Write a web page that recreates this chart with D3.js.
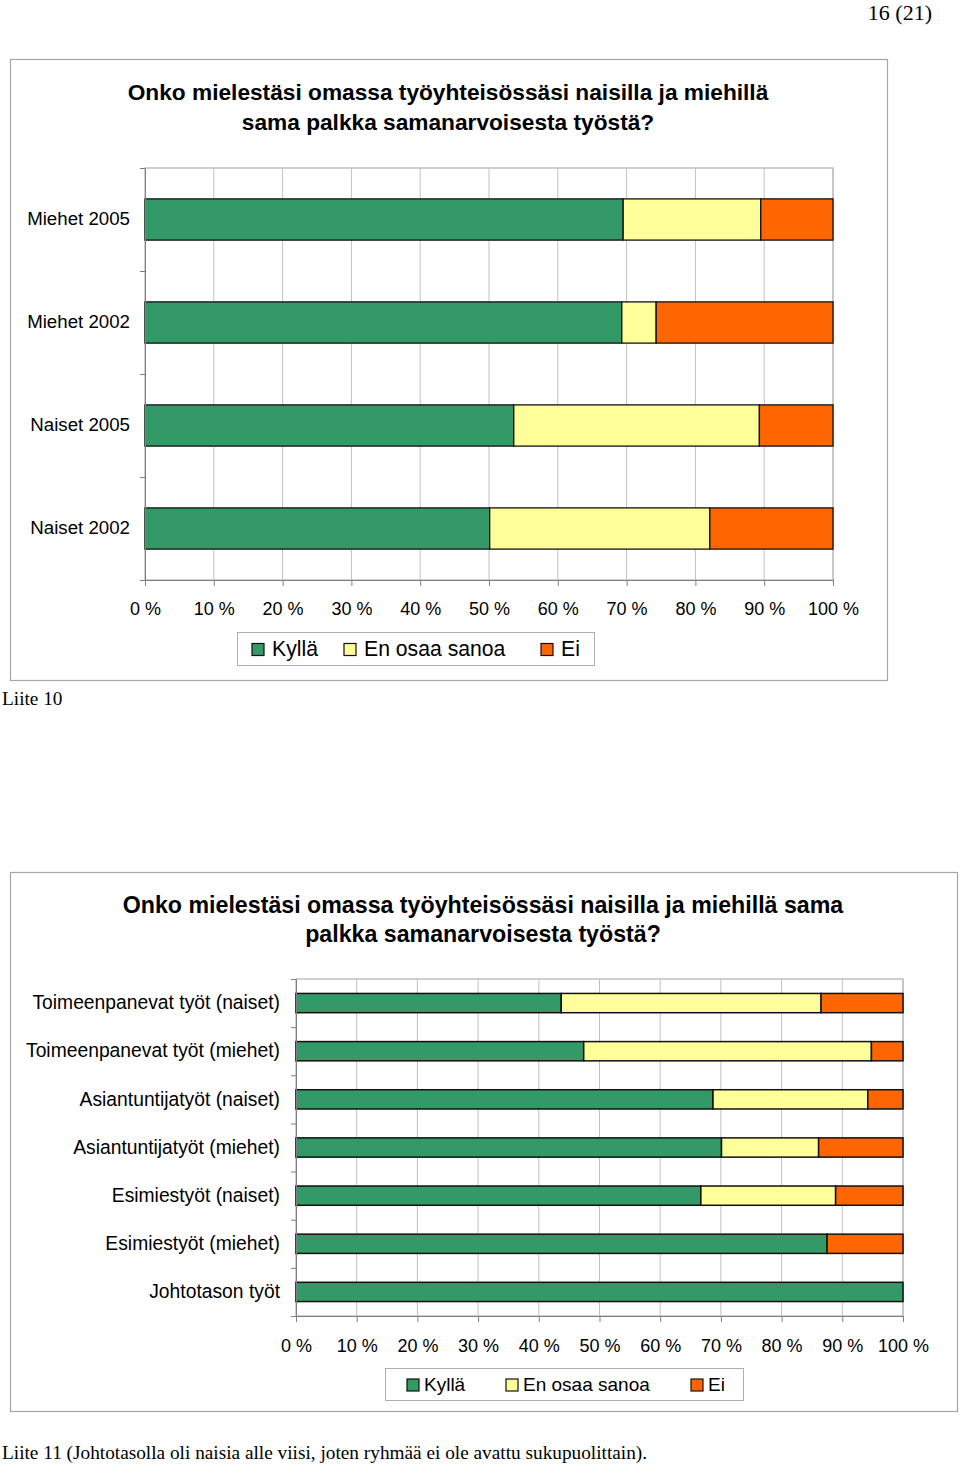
<!DOCTYPE html>
<html><head><meta charset="utf-8">
<script src="https://cdn.jsdelivr.net/npm/d3@7"></script>
<style>body{margin:0;background:#fff}svg{display:block}</style>
</head><body>
<script>
// ---- data ----
const seriesNames = ["Kyllä", "En osaa sanoa", "Ei"];
const seriesColors = ["#339966", "#FFFF99", "#FF6600"];
const tickValues = [0, 10, 20, 30, 40, 50, 60, 70, 80, 90, 100];
const tickLabels = ["0 %", "10 %", "20 %", "30 %", "40 %", "50 %", "60 %", "70 %", "80 %", "90 %", "100 %"];

const title1 = ["Onko mielestäsi omassa työyhteisössäsi naisilla ja miehillä", "sama palkka samanarvoisesta työstä?"];
const categories1 = ["Miehet 2005", "Miehet 2002", "Naiset 2005", "Naiset 2002"];
const kylla1 = [69.5, 69.3, 53.6, 50.1];
const eos1 = [20.0, 5.0, 35.7, 32.0];
const ei1 = [10.5, 25.7, 10.7, 17.9];

const title2 = ["Onko mielestäsi omassa työyhteisössäsi naisilla ja miehillä sama", "palkka samanarvoisesta työstä?"];
const categories2 = ["Toimeenpanevat työt (naiset)", "Toimeenpanevat työt (miehet)", "Asiantuntijatyöt (naiset)", "Asiantuntijatyöt (miehet)", "Esimiestyöt (naiset)", "Esimiestyöt (miehet)", "Johtotason työt"];
const kylla2 = [43.7, 47.4, 68.7, 70.1, 66.7, 87.5, 100];
const eos2 = [42.8, 47.4, 25.5, 16.0, 22.2, 0, 0];
const ei2 = [13.5, 5.2, 5.8, 13.9, 11.1, 12.5, 0];

const pageLabel = "16 (21)";
const note1 = "Liite 10";
const note2 = "Liite 11 (Johtotasolla oli naisia alle viisi, joten ryhmää ei ole avattu sukupuolittain).";

// ---- drawing ----
const W = 960, H = 1464;
const svg = d3.select("body").append("svg").attr("width", W).attr("height", H);
const sans = "'Liberation Sans', Arial, Helvetica, sans-serif";
const serif = "'Liberation Serif', 'Times New Roman', serif";

svg.append("text").attr("x", 932).attr("y", 20).attr("text-anchor", "end")
  .attr("font-family", serif).attr("font-size", 22).text(pageLabel);

function drawChart(cfg) {
  const g = svg.append("g");
  g.append("rect").attr("x", cfg.box[0] + 0.5).attr("y", cfg.box[1] + 0.5)
    .attr("width", cfg.box[2] - cfg.box[0]).attr("height", cfg.box[3] - cfg.box[1])
    .attr("fill", "#fff").attr("stroke", "#a6a6a6").attr("stroke-width", 1.2);

  cfg.title.forEach((t, i) => {
    g.append("text").attr("x", cfg.titleX).attr("y", cfg.titleY + i * cfg.titleLH)
      .attr("text-anchor", "middle").attr("font-family", sans).attr("font-weight", "bold")
      .attr("font-size", cfg.titleSize).text(t);
  });

  const [x0, y0, x1, y1] = cfg.plot;
  const x = d3.scaleLinear().domain([0, 100]).range([x0, x1]);
  const y = d3.scaleBand().domain(cfg.categories).range([y0, y1]).paddingInner(0.6).paddingOuter(0.3);
  const yIdx = d3.scaleLinear().domain([0, cfg.categories.length]).range([y0, y1]);

  // plot area frame (top/right) and gridlines
  g.append("rect").attr("x", x0).attr("y", y0).attr("width", x1 - x0).attr("height", y1 - y0)
    .attr("fill", "none").attr("stroke", "#a0a0a0").attr("stroke-width", 1);
  g.append("g").selectAll("line").data(tickValues.slice(1)).join("line")
    .attr("x1", d => x(d)).attr("x2", d => x(d)).attr("y1", y0).attr("y2", y1)
    .attr("stroke", "#c0c0c0").attr("stroke-width", 1);

  // stacked bars
  const rows = cfg.categories.map((c, i) => ({ cat: c, k: cfg.series[0][i], e: cfg.series[1][i], n: cfg.series[2][i] }));
  const stack = d3.stack().keys(["k", "e", "n"])(rows);
  stack.forEach((layer, li) => {
    g.append("g").selectAll("rect").data(layer.filter(d => d[1] - d[0] > 0)).join("rect")
      .attr("x", d => x(d[0])).attr("width", d => x(d[1]) - x(d[0]))
      .attr("y", d => y(d.data.cat)).attr("height", y.bandwidth())
      .attr("fill", seriesColors[li]).attr("stroke", "#111").attr("stroke-width", cfg.barStroke);
  });

  // axes
  const xAxis = g.append("g").attr("transform", `translate(0,${y1})`)
    .call(d3.axisBottom(x).tickValues(tickValues).tickFormat((d, i) => tickLabels[i]).tickSize(6).tickPadding(cfg.tickPad));
  xAxis.select(".domain").attr("stroke", "#808080");
  xAxis.selectAll(".tick line").attr("stroke", "#808080");
  xAxis.selectAll("text").attr("font-family", sans).attr("font-size", cfg.tickSize).attr("fill", "#000");

  const yTicks = g.append("g").attr("transform", `translate(${x0},0)`)
    .call(d3.axisLeft(yIdx).tickValues(d3.range(cfg.categories.length + 1)).tickFormat("").tickSize(5));
  yTicks.select(".domain").attr("stroke", "#808080");
  yTicks.selectAll(".tick line").attr("stroke", "#808080");

  const yAxis = g.append("g").attr("transform", `translate(${x0},0)`)
    .call(d3.axisLeft(y).tickSize(0).tickPadding(cfg.labelPad));
  yAxis.select(".domain").remove();
  yAxis.selectAll("text").attr("font-family", sans).attr("font-size", cfg.labelSize).attr("fill", "#000");

  // legend
  const [lx0, ly0, lx1, ly1] = cfg.legend;
  g.append("rect").attr("x", lx0 + 0.5).attr("y", ly0 + 0.5).attr("width", lx1 - lx0).attr("height", ly1 - ly0)
    .attr("fill", "#fff").attr("stroke", "#b0b0b0");
  const lg = g.append("g").selectAll("g").data(seriesNames).join("g")
    .attr("transform", (d, i) => `translate(${cfg.legendItems[i]},${(ly0 + ly1) / 2})`);
  lg.append("rect").attr("x", 0).attr("y", -cfg.sw / 2 + 1).attr("width", cfg.sw).attr("height", cfg.sw)
    .attr("fill", (d, i) => seriesColors[i]).attr("stroke", "#111").attr("stroke-width", 1.2);
  lg.append("text").attr("x", cfg.sw + cfg.legendGap).attr("y", 0).attr("dy", "0.36em")
    .attr("font-family", sans).attr("font-size", cfg.legendSize).text(d => d);
}

drawChart({
  box: [10, 59, 887, 680],
  title: title1, titleX: 448, titleY: 100, titleLH: 30, titleSize: 22.7,
  plot: [145, 168, 833, 580],
  categories: categories1, series: [kylla1, eos1, ei1],
  barStroke: 1.3, tickPad: 16, tickSize: 18, labelPad: 15, labelSize: 18.7,
  legend: [237, 632, 594, 665], legendItems: [252, 344, 541], sw: 12, legendGap: 8, legendSize: 21.2
});

drawChart({
  box: [10, 872, 957, 1411],
  title: title2, titleX: 483, titleY: 913, titleLH: 29, titleSize: 23.2,
  plot: [296, 979, 903, 1316],
  categories: categories2, series: [kylla2, eos2, ei2],
  barStroke: 1.5, tickPad: 17, tickSize: 18, labelPad: 16, labelSize: 19.3,
  legend: [385, 1368, 743, 1400], legendItems: [407, 506, 691], sw: 12, legendGap: 5, legendSize: 19
});

svg.append("text").attr("x", 2).attr("y", 705).attr("font-family", serif).attr("font-size", 19.3).text(note1);
svg.append("text").attr("x", 2).attr("y", 1459).attr("font-family", serif).attr("font-size", 19.3).text(note2);
</script>
</body></html>
